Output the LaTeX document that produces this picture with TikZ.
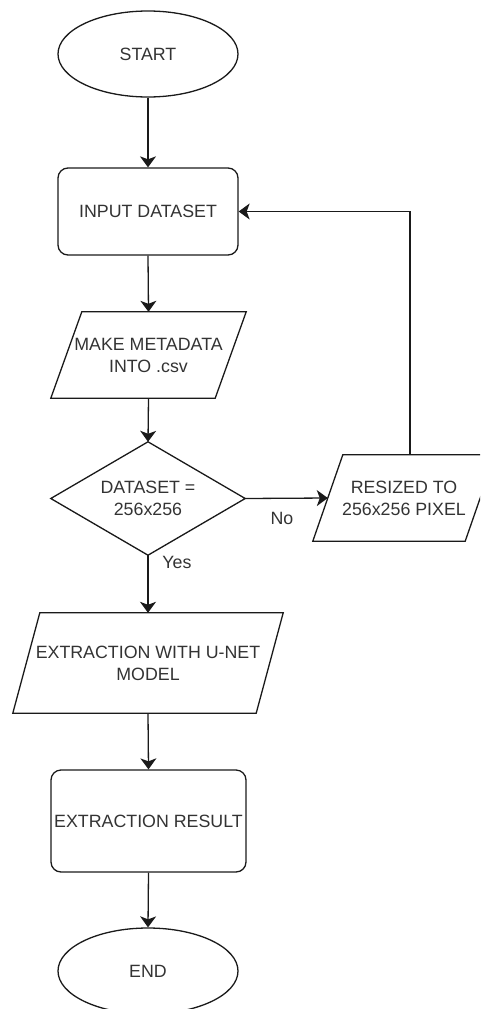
\documentclass[tikz,border=0pt]{standalone}
\usepackage{fontspec}
\setmainfont{Liberation Sans}
\usetikzlibrary{arrows.meta,shapes.geometric}
\definecolor{inkline}{HTML}{1A1A1A}
\definecolor{inktext}{HTML}{333333}
\tikzset{
  every node/.style={font=\fontsize{17.8}{22}\selectfont, text=inktext, align=center, inner sep=0pt},
  terminal/.style={ellipse, draw=inkline, line width=1.3pt, minimum width=180, minimum height=86},
  process/.style={rectangle, rounded corners=10, draw=inkline, line width=1.3pt},
  frame/.style={rectangle},
  outline/.style={draw=inkline, line width=1.3pt, line join=miter},
  flow/.style={draw=inkline, line width=1.3pt, -{Stealth[length=11pt, width=16pt, inset=3pt]}},
  tag/.style={font=\fontsize{17.8}{22}\selectfont}
}
\begin{document}
\begin{tikzpicture}[x=1pt, y=1pt]
\useasboundingbox (0,0) rectangle (480,-1009);
\clip (0,0) rectangle (480,-1009);

% terminals and process boxes
\node[terminal] (start) at (148,-54) {START};
\node[process, minimum width=180, minimum height=87] (input) at (148,-211.5) {INPUT DATASET};
\node[process, minimum width=195, minimum height=102] (result) at (148.5,-821) {EXTRACTION RESULT};
\node[terminal] (end) at (148,-971) {END};

% parallelogram frames (outlines drawn below)
\node[frame, minimum width=195, minimum height=86] (meta) at (148.5,-355) {MAKE METADATA\\INTO .csv};
\node[frame, minimum width=182, minimum height=86] (resize) at (404,-498) {RESIZED TO\\256x256 PIXEL};
\node[frame, minimum width=270, minimum height=100] (extr) at (148,-663) {EXTRACTION WITH U-NET\\MODEL};

% decision frame (diamond drawn below)
\node[frame, minimum width=194, minimum height=113] (dec) at (148,-498.5) {DATASET =\\256x256};

% outlines
\draw[outline] (meta.south west) -- ([xshift=31]meta.north west) -- (meta.north east) -- ([xshift=-31]meta.south east) -- cycle;
\draw[outline] (resize.south west) -- ([xshift=30]resize.north west) -- (resize.north east) -- ([xshift=-30]resize.south east) -- cycle;
\draw[outline] (extr.south west) -- ([xshift=27]extr.north west) -- (extr.north east) -- ([xshift=-27]extr.south east) -- cycle;
\draw[outline] (dec.north) -- (dec.east) -- (dec.south) -- (dec.west) -- cycle;

% connectors
\draw[flow] (start.south) -- (input.north);
\draw[flow] (input.south) -- (meta.north);
\draw[flow] (meta.south) -- (dec.north);
\draw[flow] (dec.south) -- (extr.north);
\draw[flow] (extr.south) -- (result.north);
\draw[flow] (result.south) -- (end.north);
\draw[flow] (dec.east) -- ([xshift=15]resize.west);
\draw[flow] ([xshift=6]resize.north) |- (input.east);

% branch labels
\node[tag] (no) at (282,-518) {No};
\node[tag] (yes) at (177,-562) {Yes};
\end{tikzpicture}
\end{document}
